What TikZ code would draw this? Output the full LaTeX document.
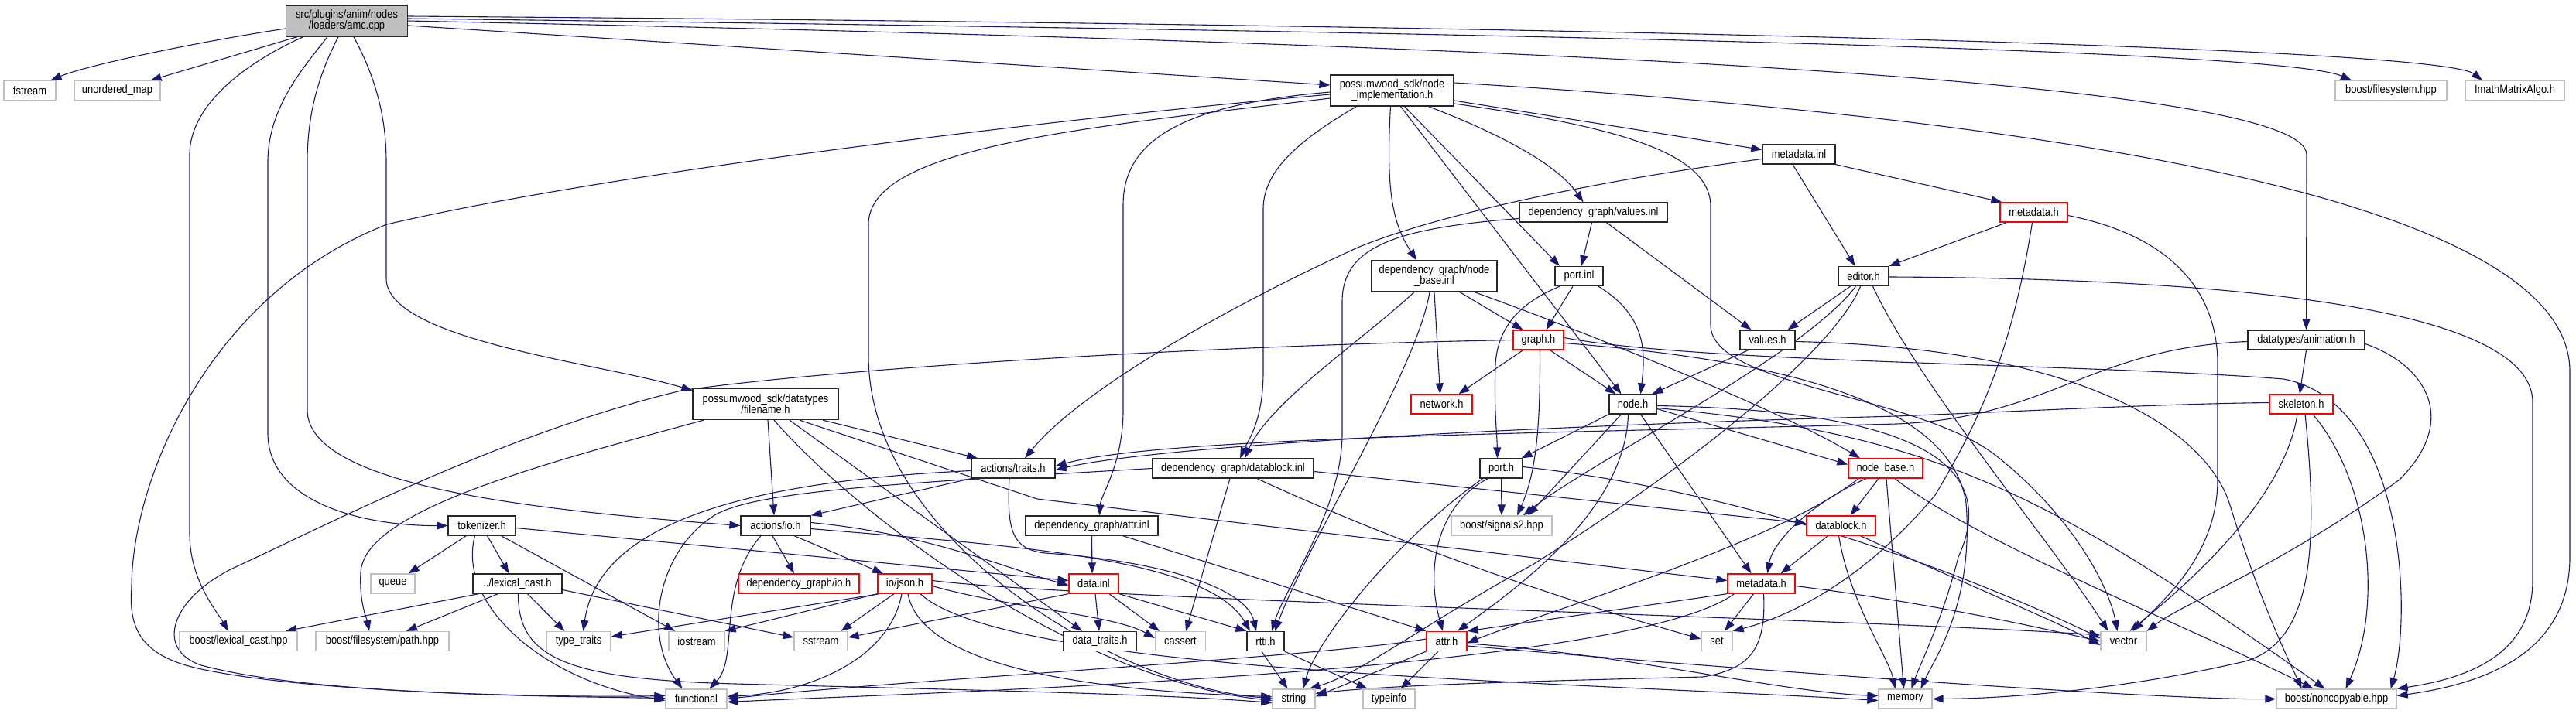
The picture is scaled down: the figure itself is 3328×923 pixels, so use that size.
\documentclass[tikz,border=0pt]{standalone}
\usepackage{fontspec}
\setmainfont{Liberation Sans}[FakeStretch=0.86]
\usetikzlibrary{arrows.meta}
\definecolor{edgec}{HTML}{191970}
\definecolor{grayb}{HTML}{BFBFBF}
\definecolor{redb}{HTML}{FF0000}
\newcommand\lblfont{\fontsize{15}{14}\selectfont}
\pgfdeclarelayer{back}
\pgfdeclarelayer{edges}
\pgfsetlayers{back,edges,main}
\tikzset{
  box/.style={draw, line width=1.3pt, fill=white, inner sep=0pt, minimum height=25pt, font=\lblfont, align=center, text=black},
  nb/.style={box, draw=black!85},
  nr/.style={box, draw=redb},
  ng/.style={box, draw=grayb},
  nroot/.style={box, draw=black!85, fill=grayb},
  ln/.style={draw=edgec, line width=1.1pt, -{Triangle[length=14pt,width=10pt]}}
}
\begin{document}
\begin{tikzpicture}[x=1pt,y=-1pt]
\begin{pgfonlayer}{back}
\fill[white] (0,0) rectangle (3328,923);
\end{pgfonlayer}
\useasboundingbox (0,0) rectangle (3328,923);

% ---------------- nodes ----------------
\node[nroot,minimum width=157pt,minimum height=40pt] (A) at (448,27) {src/plugins/anim/nodes\\/loaders/amc.cpp};
\node[ng,minimum width=67pt] (fstream) at (38.5,117) {fstream};
\node[ng,minimum width=111pt] (umap) at (151.5,117) {unordered\_map};
\node[ng,minimum width=144pt] (bfs) at (3089,117) {boost/filesystem.hpp};
\node[ng,minimum width=128pt] (imath) at (3249,117) {ImathMatrixAlgo.h};
\node[nb,minimum width=159pt,minimum height=40pt] (NI) at (1798.5,117) {possumwood\_sdk/node\\\_implementation.h};
\node[nb,minimum width=162pt,minimum height=40pt] (nbinl) at (1853,357) {dependency\_graph/node\\\_base.inl};
\node[nb,minimum width=191pt] (valinl) at (2058.5,274.5) {dependency\_graph/values.inl};
\node[nb,minimum width=94pt] (mdinl) at (2324,199.5) {metadata.inl};
\node[nr,minimum width=87pt] (mdht) at (2627.5,274.5) {metadata.h};
\node[nb,minimum width=62pt] (portinl) at (2040,357) {port.inl};
\node[nb,minimum width=65pt] (editor) at (2407.5,357) {editor.h};
\node[nr,minimum width=65pt] (graph) at (1987.5,439.5) {graph.h};
\node[nb,minimum width=71pt] (valuesh) at (2283.5,439.5) {values.h};
\node[nb,minimum width=151pt] (anim) at (2979.5,439.5) {datatypes/animation.h};
\node[nb,minimum width=188pt,minimum height=40pt] (FN) at (989,522.5) {possumwood\_sdk/datatypes\\/filename.h};
\node[nr,minimum width=79pt] (network) at (1862.5,522.5) {network.h};
\node[nb,minimum width=61pt] (nodeh) at (2109.5,522.5) {node.h};
\node[nr,minimum width=82pt] (skel) at (2973,522.5) {skeleton.h};
\node[nb,minimum width=108pt] (atraits) at (1309,605.5) {actions/traits.h};
\node[nb,minimum width=208pt] (dbinl) at (1593,605.5) {dependency\_graph/datablock.inl};
\node[nb,minimum width=55pt] (porth) at (1939.5,605.5) {port.h};
\node[nr,minimum width=96pt] (nbh) at (2436,605.5) {node\_base.h};
\node[nb,minimum width=87pt] (TK) at (622.5,679.5) {tokenizer.h};
\node[nb,minimum width=90pt] (aio) at (1002,679.5) {actions/io.h};
\node[nb,minimum width=171pt] (attrinl) at (1410.5,679.5) {dependency\_graph/attr.inl};
\node[ng,minimum width=130pt] (signals) at (1940,679.5) {boost/signals2.hpp};
\node[nr,minimum width=89pt] (dbh) at (2378.5,679.5) {datablock.h};
\node[ng,minimum width=57pt] (queue) at (507.5,754.5) {queue};
\node[nb,minimum width=115pt] (lexh) at (668.5,754.5) {../lexical\_cast.h};
\node[nr,minimum width=156pt] (dgio) at (1032,754.5) {dependency\_graph/io.h};
\node[nr,minimum width=70pt] (json) at (1169,754.5) {io/json.h};
\node[nr,minimum width=64pt] (datainl) at (1413,754.5) {data.inl};
\node[nr,minimum width=87pt] (mdh) at (2275.5,754.5) {metadata.h};
\node[ng,minimum width=152pt] (blex) at (308,829) {boost/lexical\_cast.hpp};
\node[ng,minimum width=172pt] (bpath) at (494,829) {boost/filesystem/path.hpp};
\node[ng,minimum width=83pt] (ttraits) at (747.5,829) {type\_traits};
\node[ng,minimum width=72pt] (iostream) at (900,829) {iostream};
\node[ng,minimum width=69pt] (sstream) at (1060.5,829) {sstream};
\node[nb,minimum width=94pt] (dtraits) at (1421,829) {data\_traits.h};
\node[ng,minimum width=65pt] (cassert) at (1525,829) {cassert};
\node[nb,minimum width=48pt] (rtti) at (1635,829) {rtti.h};
\node[nr,minimum width=52pt] (attrh) at (1869,829) {attr.h};
\node[ng,minimum width=40pt] (set) at (2218,829) {set};
\node[ng,minimum width=59pt] (vector) at (2743.5,829) {vector};
\node[ng,minimum width=79pt] (functional) at (899.5,903.5) {functional};
\node[ng,minimum width=55pt] (string) at (1671.5,903.5) {string};
\node[ng,minimum width=67pt] (typeinfo) at (1794.5,903.5) {typeinfo};
\node[ng,minimum width=69pt] (memory) at (2461.5,903.5) {memory};
\node[ng,minimum width=155pt] (noncopy) at (3018.5,903.5) {boost/noncopyable.hpp};

% ---------------- edges ----------------
\begin{pgfonlayer}{edges}
% amc.cpp
\draw[ln] ([yshift=-10pt]A.west) .. controls (250,55) and (110,85) .. ([xshift=27pt]fstream.north);
\draw[ln] ([xshift=-64pt]A.south) -- ([xshift=43pt]umap.north);
\draw[ln] ([xshift=-56pt]A.south) .. controls (330,75) and (245,130) .. (245,200) -- (245,690) .. controls (245,750) and (280,790) .. ([xshift=-13pt]blex.north);
\draw[ln] ([xshift=-25pt]A.south) .. controls (390,90) and (346,140) .. (346,210) -- (346,560) .. controls (346,650) and (470,680) .. (TK.west);
\draw[ln] ([xshift=-11pt]A.south) .. controls (410,100) and (397,150) .. (397,210) -- (397,530) .. controls (397,630) and (700,660) .. (aio.west);
\draw[ln] ([xshift=9pt]A.south) .. controls (485,100) and (499,150) .. (499,210) -- (499,360) .. controls (499,440) and (780,470) .. ([yshift=-3pt]FN.north west);
\draw[ln] ([yshift=-6pt]A.east) -- ([yshift=7pt]NI.west);
\draw[ln] ([yshift=6pt]A.east) .. controls (2000,32) and (3150,60) .. ([xshift=-42pt]imath.north);
\draw[ln] ([yshift=3pt]A.east) .. controls (2000,42) and (2950,65) .. ([xshift=-51pt]bfs.north);
\draw[ln] (A.east) .. controls (1900,55) and (2980,100) .. (2980,200) -- (anim.north);
% node_implementation.h
\draw[ln] ([yshift=-5pt]NI.west) .. controls (1400,150) and (800,220) .. (500,290) .. controls (270,380) and (170,620) .. (170,760) .. controls (165,820) and (190,850) .. (260,865) .. controls (400,895) and (700,902) .. ([yshift=4pt]functional.west);
\draw[ln] ([yshift=-10pt]NI.west) .. controls (1400,165) and (1122,190) .. (1122,290) -- (1122,460) .. controls (1122,700) and (1450,890) .. ([yshift=1pt]string.west);
\draw[ln] ([yshift=-2pt]NI.west) .. controls (1530,135) and (1451,180) .. (1451,265) -- (1451,530) .. controls (1451,600) and (1422,640) .. ([xshift=10pt]attrinl.north);
\draw[ln] ([xshift=-46pt]NI.south) .. controls (1680,180) and (1632,220) .. (1632,270) -- (1632,480) .. controls (1632,545) and (1612,570) .. ([xshift=9pt]dbinl.north);
\draw[ln] ([xshift=-2pt]NI.south) .. controls (1790,250) and (1800,290) .. ([xshift=-23pt]nbinl.north);
\draw[ln] ([xshift=11pt]NI.south) -- ([xshift=-15pt]nodeh.north);
\draw[ln] ([xshift=16pt]NI.south) -- ([xshift=-25pt]portinl.north);
\draw[ln] ([xshift=47pt]NI.south) .. controls (1930,170) and (2010,210) .. ([xshift=-13pt]valinl.north);
\draw[ln] ([yshift=-13pt]NI.east) -- ([yshift=6pt]mdinl.west);
\draw[ln] ([yshift=-17pt]NI.east) .. controls (2100,165) and (2210,200) .. (2210,267) -- (2210,420) .. controls (2210,500) and (2480,510) .. (2580,590) .. controls (2680,670) and (2725,760) .. ([xshift=-8pt]vector.north);
\draw[ln] ([yshift=10pt]NI.east) .. controls (2600,150) and (3320,250) .. (3320,480) -- (3320,720) .. controls (3320,850) and (3200,885) .. ([yshift=4pt]noncopy.east);
% filename.h
\draw[ln] ([xshift=-80pt]FN.south) .. controls (700,600) and (470,660) .. (466,740) .. controls (464,780) and (474,800) .. ([xshift=-17pt]bpath.north);
\draw[ln] ([xshift=3pt]FN.south) -- ([xshift=-2pt]aio.north);
\draw[ln] ([xshift=74pt]FN.south) -- ([xshift=-46pt]atraits.north);
\draw[ln] ([xshift=11pt]FN.south) .. controls (1120,680) and (1400,880) .. ([yshift=-2pt]string.west);
\draw[ln] ([xshift=31pt]FN.south) -- ([xshift=-23pt]dtraits.north);
\draw[ln] ([xshift=44pt]FN.south) -- (1340,645) -- ([yshift=4pt]mdh.west);
% tokenizer.h
\draw[ln] (TK) -- (queue);
\draw[ln] ([xshift=7pt]TK.south) -- ([xshift=-11pt]lexh.north);
\draw[ln] ([xshift=-9pt]TK.south) .. controls (590,780) and (700,880) .. ([yshift=-2pt]functional.west);
\draw[ln] ([xshift=25pt]TK.south) -- ([xshift=-28pt]iostream.north);
\draw[ln] ([yshift=-3pt]TK.east) -- ([yshift=4pt]datainl.west);
% ../lexical_cast.h
\draw[ln] ([xshift=-50pt]lexh.south) -- ([xshift=61pt]blex.north);
\draw[ln] ([xshift=-25pt]lexh.south) -- ([xshift=31pt]bpath.north);
\draw[ln] ([xshift=13pt]lexh.south) -- ([xshift=-18pt]ttraits.north);
\draw[ln] ([yshift=-8pt]lexh.east) -- ([yshift=5pt]sstream.west);
\draw[ln] ([xshift=1pt]lexh.south) .. controls (669,850) and (730,878) .. (950,884) .. controls (1250,892) and (1500,897) .. ([yshift=-5pt]string.west);
% actions/traits.h
\draw[ln] (atraits.south west) -- (aio.north east);
\draw[ln] ([yshift=-3pt]atraits.west) .. controls (900,625) and (770,700) .. ([xshift=6pt]ttraits.north);
\draw[ln] ([xshift=-5pt]atraits.south) .. controls (1300,690) and (1310,710) .. (1350,715) .. controls (1500,725) and (1610,760) .. ([xshift=-12pt]rtti.north);
% actions/io.h
\draw[ln] ([xshift=-19pt]aio.south) .. controls (925,760) and (955,850) .. ([xshift=17pt]functional.north);
\draw[ln] ([xshift=-4pt]aio.south) -- ([xshift=-6pt]dgio.north);
\draw[ln] ([xshift=24pt]aio.south) -- ([xshift=-28pt]json.north);
\draw[ln] ([yshift=4pt]aio.east) .. controls (1200,690) and (1300,735) .. ([yshift=-2pt]datainl.west);
\draw[ln] ([yshift=-4pt]aio.east) .. controls (1300,705) and (1560,720) .. ([xshift=-20pt]rtti.north);
% io/json.h
\draw[ln] ([xshift=3pt]json.south west) -- ([yshift=6pt]ttraits.east);
\draw[ln] (json.south west) -- (iostream.north east);
\draw[ln] ([xshift=-14pt]json.south) -- ([xshift=26pt]sstream.north);
\draw[ln] ([xshift=-4pt]json.south) .. controls (1150,850) and (1050,895) .. ([yshift=3pt]functional.east);
\draw[ln] ([xshift=4pt]json.south) .. controls (1190,860) and (1400,893) .. ([yshift=3pt]string.west);
\draw[ln] ([yshift=-3pt]json.east) .. controls (1300,785) and (1440,795) .. ([yshift=4pt]cassert.west);
\draw[ln] ([yshift=4pt]json.east) .. controls (1400,775) and (2400,800) .. ([yshift=8pt]vector.west);
\draw[ln] ([xshift=20pt]json.south) .. controls (1300,870) and (2000,880) .. ([yshift=-2pt]memory.west);
% datablock.inl
\draw[ln] (dbinl.west) .. controls (1150,625) and (980,635) .. (925,665) .. controls (850,710) and (830,820) .. ([xshift=-18pt]functional.north);
\draw[ln] ([xshift=-4pt]dbinl.south) -- ([xshift=7pt]cassert.north);
\draw[ln] ([yshift=-4pt]dbinl.east) -- ([yshift=3pt]dbh.west);
\draw[ln] ([xshift=31pt]dbinl.south) .. controls (1800,700) and (2000,770) .. ([yshift=3pt]set.west);
% node_base.inl
\draw[ln] ([xshift=-26pt]nbinl.south) .. controls (1760,440) and (1640,520) .. ([xshift=15pt]dbinl.north);
\draw[ln] ([xshift=-6pt]nbinl.south) .. controls (1830,480) and (1690,700) .. ([xshift=12pt]rtti.north);
\draw[ln] (nbinl.south) -- ([xshift=-2pt]network.north);
\draw[ln] ([xshift=33pt]nbinl.south) -- ([xshift=-20pt]graph.north);
\draw[ln] ([xshift=52pt]nbinl.south) .. controls (2050,430) and (2300,530) .. ([xshift=-33pt]nbh.north);
% graph.h
\draw[ln] (graph.west) .. controls (1500,448) and (1050,480) .. (880,505) .. controls (650,560) and (420,680) .. (300,735) .. controls (220,775) and (200,840) .. (260,860) .. controls (400,898) and (700,900) .. ([yshift=1pt]functional.west);
\draw[ln] ([xshift=-20pt]graph.south) -- ([xshift=22pt]network.north);
\draw[ln] ([xshift=2pt]graph.south) .. controls (1990,550) and (1985,610) .. ([xshift=20pt]signals.north);
\draw[ln] ([xshift=15pt]graph.south) -- ([xshift=-22pt]nodeh.north);
\draw[ln] ([yshift=3pt]graph.east) .. controls (2200,470) and (2700,470) .. (2950,490) .. controls (3110,520) and (3115,800) .. ([xshift=-8pt]noncopy.north east);
\draw[ln] ([yshift=-4pt]graph.east) .. controls (2300,465) and (2520,520) .. (2540,650) .. controls (2550,780) and (2500,850) .. ([xshift=20pt]memory.north);
% port.inl
\draw[ln] ([xshift=-8pt]portinl.south) -- ([xshift=10pt]graph.north);
\draw[ln] ([xshift=-25pt]portinl.south) .. controls (1955,395) and (1935,430) .. (1932,470) .. controls (1930,530) and (1934,560) .. ([xshift=-5pt]porth.north);
\draw[ln] ([xshift=25pt]portinl.south) .. controls (2130,410) and (2125,460) .. ([xshift=10pt]nodeh.north);
% values.inl
\draw[ln] ([xshift=-2pt]valinl.south) -- ([xshift=3pt]portinl.north);
\draw[ln] ([xshift=17pt]valinl.south) -- ([xshift=-21pt]valuesh.north);
\draw[ln] ([yshift=-8pt]valinl.west) .. controls (1800,295) and (1734,320) .. (1734,390) -- (1734,560) .. controls (1734,660) and (1660,760) .. ([xshift=8pt]rtti.north);
% metadata.inl
\draw[ln] ([yshift=-6pt]mdinl.west) .. controls (2050,235) and (1850,280) .. (1754,320) .. controls (1600,390) and (1400,500) .. ([xshift=15pt]atraits.north);
\draw[ln] ([xshift=-8pt]mdinl.south) -- ([xshift=-11pt]editor.north);
\draw[ln] (mdinl.south east) -- ([xshift=3pt]mdht.north west);
% metadata.h (top)
\draw[ln] ([xshift=-35pt]mdht.south) -- (editor.north east);
\draw[ln] ([xshift=-2pt]mdht.south) .. controls (2600,450) and (2560,540) .. (2500,640) .. controls (2400,760) and (2300,800) .. (set.north east);
\draw[ln] ([yshift=-4pt]mdht.east) .. controls (2830,310) and (2865,400) .. (2865,470) -- (2865,620) .. controls (2865,720) and (2790,780) .. ([xshift=12pt]vector.north);
% editor.h
\draw[ln] ([xshift=-17pt]editor.south) -- ([xshift=26pt]valuesh.north);
\draw[ln] ([xshift=-10pt]editor.south) .. controls (2330,460) and (2050,600) .. ([xshift=28pt]signals.north);
\draw[ln] ([xshift=-4pt]editor.south) .. controls (2380,430) and (2250,560) .. (1980,730) .. controls (1850,800) and (1760,870) .. ([xshift=20pt]string.north);
\draw[ln] ([xshift=12pt]editor.south) .. controls (2480,500) and (2650,700) .. ([xshift=-20pt]vector.north);
\draw[ln] ([yshift=-1pt]editor.east) .. controls (2900,360) and (3272,400) .. (3272,520) -- (3272,750) .. controls (3272,840) and (3200,875) .. (noncopy.north east);
% values.h
\draw[ln] ([xshift=-25pt]valuesh.south) -- ([xshift=25pt]nodeh.north);
\draw[ln] ([yshift=-2pt]valuesh.east) .. controls (2700,450) and (2850,560) .. (2880,650) .. controls (2920,780) and (2960,860) .. ([xshift=-45pt]noncopy.north);
% datatypes/animation.h
\draw[ln] ([yshift=-2pt]anim.west) .. controls (2700,450) and (2650,540) .. (2450,548) .. controls (2000,560) and (1500,565) .. ([yshift=3pt]atraits.east);
\draw[ln] (anim.south) -- ([xshift=-2pt]skel.north);
\draw[ln] ([yshift=-5pt]anim.east) .. controls (3130,470) and (3180,540) .. (3100,620) .. controls (2950,730) and (2820,780) .. (vector.north east);
% skeleton.h
\draw[ln] ([yshift=2pt]skel.west) .. controls (2800,522) and (2650,530) .. (2450,538) .. controls (2000,550) and (1500,575) .. ([yshift=-2pt]atraits.east);
\draw[ln] ([xshift=-5pt]skel.south) .. controls (2950,650) and (2820,760) .. ([xshift=8pt]vector.north);
\draw[ln] ([xshift=5pt]skel.south) .. controls (2995,700) and (2990,830) .. (2900,855) .. controls (2750,890) and (2600,903) .. (memory.east);
\draw[ln] ([xshift=15pt]skel.south) .. controls (3060,620) and (3080,780) .. ([xshift=12pt]noncopy.north);
% node.h
\draw[ln] (nodeh.south west) -- ([xshift=-2pt]porth.north east);
\draw[ln] ([xshift=-15pt]nodeh.south) -- ([xshift=34pt]signals.north);
\draw[ln] ([xshift=-6pt]nodeh.south) .. controls (2100,660) and (1960,760) .. ([xshift=14pt]attrh.north);
\draw[ln] ([xshift=10pt]nodeh.south) -- ([xshift=-13pt]mdh.north);
\draw[ln] ([yshift=-6pt]nodeh.east) -- ([yshift=5pt]nbh.west);
\draw[ln] ([yshift=-2pt]nodeh.east) .. controls (2450,530) and (2590,590) .. (2530,720) .. controls (2510,800) and (2480,860) .. ([xshift=8pt]memory.north);
\draw[ln] ([yshift=-5pt]nodeh.east) .. controls (2500,560) and (2650,640) .. ([xshift=-15pt]noncopy.north);
% port.h
\draw[ln] (porth.south) -- (signals.north);
\draw[ln] ([xshift=-17pt]porth.south) .. controls (1860,650) and (1840,730) .. ([xshift=-5pt]attrh.north);
\draw[ln] ([xshift=-24pt]porth.south) .. controls (1800,700) and (1700,830) .. ([xshift=12pt]string.north);
\draw[ln] ([yshift=2pt]porth.east) .. controls (2300,640) and (2600,770) .. ([yshift=4pt]vector.west);
% node_base.h
\draw[ln] ([xshift=-9pt]nbh.south) -- ([xshift=12pt]dbh.north);
\draw[ln] ([xshift=-25pt]nbh.south) .. controls (2340,650) and (2290,700) .. ([xshift=8pt]mdh.north);
\draw[ln] ([xshift=1pt]nbh.south) -- ([xshift=-2pt]memory.north);
\draw[ln] ([xshift=12pt]nbh.south) .. controls (2550,700) and (2850,820) .. ([xshift=-30pt]noncopy.north);
\draw[ln] ([xshift=-35pt]nbh.south) .. controls (2300,700) and (2000,790) .. ([yshift=-2pt]attrh.east);
% datablock.h
\draw[ln] ([xshift=-17pt]dbh.south) -- ([xshift=25pt]mdh.north);
\draw[ln] ([xshift=-3pt]dbh.south) .. controls (2390,780) and (2440,850) .. ([xshift=-13pt]memory.north);
\draw[ln] ([xshift=25pt]dbh.south) .. controls (2550,760) and (2650,800) .. ([yshift=-5pt]vector.west);
% metadata.h (lower)
\draw[ln] ([xshift=-10pt]mdh.south) -- ([xshift=10pt]set.north);
\draw[ln] ([xshift=3pt]mdh.south) .. controls (2282,840) and (2260,865) .. (2200,875) .. controls (2000,880) and (1800,885) .. ([yshift=7pt]string.east);
\draw[ln] (mdh.south west) -- (attrh.north east);
\draw[ln] ([xshift=-35pt]mdh.south) .. controls (2100,870) and (1200,895) .. ([yshift=-4pt]functional.east);
\draw[ln] ([yshift=-3pt]mdh.east) .. controls (2500,780) and (2650,815) .. (vector.west);
% attr.h
\draw[ln] ([yshift=3pt]attrh.west) .. controls (1700,850) and (1150,880) .. (functional.east);
\draw[ln] (attrh.south west) -- ([yshift=3pt]string.east);
\draw[ln] ([xshift=-11pt]attrh.south) -- ([xshift=15pt]typeinfo.north);
\draw[ln] ([yshift=-3pt]attrh.east) .. controls (2100,845) and (2300,895) .. ([yshift=4pt]memory.west);
\draw[ln] ([yshift=-6pt]attrh.east) .. controls (2300,870) and (2800,905) .. (noncopy.west);
% rtti.h
\draw[ln] ([xshift=-5pt]rtti.south) -- ([xshift=-8pt]string.north);
\draw[ln] (rtti.south east) -- ([xshift=-28pt]typeinfo.north);
% data.inl
\draw[ln] ([xshift=2pt]datainl.south) -- ([xshift=-1pt]dtraits.north);
\draw[ln] ([xshift=20pt]datainl.south) -- ([xshift=-27pt]cassert.north);
\draw[ln] (datainl.south east) -- (rtti.north west);
\draw[ln] (datainl.south west) -- ([yshift=5pt]sstream.east);
% attr.inl
\draw[ln] (attrinl.south) -- ([xshift=-2pt]datainl.north);
\draw[ln] ([xshift=40pt]attrinl.south) -- (attrh.north west);
\end{pgfonlayer}
\end{tikzpicture}
\end{document}
